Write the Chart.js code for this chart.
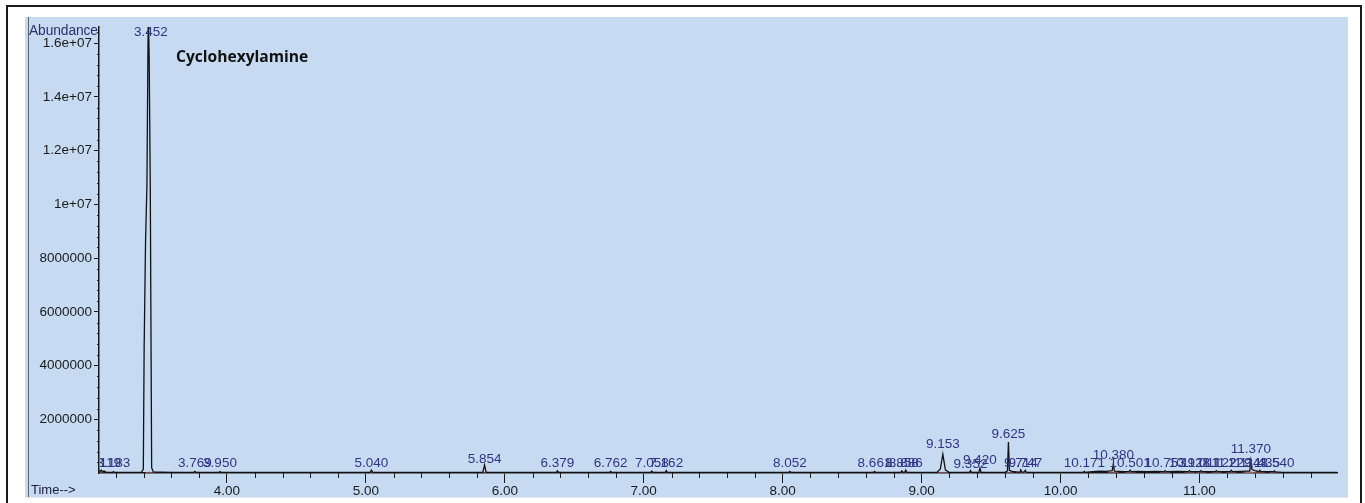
<!DOCTYPE html>
<html>
<head>
<meta charset="utf-8">
<script src="https://cdn.jsdelivr.net/npm/chart.js@4.4.1/dist/chart.umd.min.js"></script>
<style>
  html, body { margin: 0; padding: 0; background: #fff; width: 1365px; height: 503px; overflow: hidden; }
  .frame { position: absolute; left: 6px; top: 5px; width: 1352px; height: 540px; border: 2px solid #1a1a1a; }
  .panel { position: absolute; left: 25px; top: 17px; width: 1323px; height: 480px; background: #c6dbf1; border-bottom: 1px solid #dfe6ee; }
  .panel .edge { position: absolute; left: 3px; top: 0; width: 1px; height: 480px; background: #5a6270; }
  canvas { position: absolute; left: 0; top: 0; }
  .txt { position: absolute; font-family: "Liberation Sans", Arial, sans-serif; font-size: 13px; white-space: nowrap; }
  .abund { left: 4px; top: 6px; font-size: 13.8px; letter-spacing: -0.1px; color: #2c2f6e; }
  .time { left: 6px; top: 465px; color: #1a1a40; }
  .compound { left: 151px; top: 28px; font-family: "Open Sans", sans-serif; font-weight: 700; font-size: 15.6px; color: #111; }
</style>
</head>
<body>
<div class="frame"></div>
<div class="panel">
  <canvas id="tic" width="1323" height="480"></canvas>
  <div class="edge"></div>
  <div class="txt abund">Abundance</div>
  <div class="txt time">Time--&gt;</div>
  <div class="txt compound">Cyclohexylamine</div>
</div>
<script>
  // Total ion chromatogram (time in min, abundance in counts)
  const retentionTimes = [
    3.079, 3.088, 3.096, 3.104, 3.110, 3.116, 3.122, 3.130, 3.150, 3.176, 3.183, 3.192, 3.250, 3.385,
    3.398, 3.404, 3.414, 3.424, 3.431, 3.434, 3.440, 3.448, 3.458, 3.470, 3.600,
    3.760, 3.769, 3.778, 3.942, 3.950, 3.958, 4.500, 5.030, 5.040, 5.050, 5.500,
    5.842, 5.854, 5.866, 6.200, 6.371, 6.379, 6.387, 6.754, 6.762, 6.770, 7.050, 7.058, 7.066,
    7.154, 7.162, 7.170, 7.600, 8.044, 8.052, 8.060, 8.500, 8.653, 8.661, 8.669, 8.850, 8.858,
    8.866, 8.878, 8.886, 8.894, 9.110, 9.135, 9.153, 9.171, 9.200, 9.344, 9.352, 9.360, 9.412,
    9.420, 9.428, 9.600, 9.618, 9.625, 9.632, 9.650, 9.680, 9.706, 9.714, 9.722, 9.739, 9.747,
    9.755, 10.000, 10.163, 10.171, 10.179, 10.230, 10.280, 10.330, 10.372, 10.380, 10.388, 10.420,
    10.460, 10.493, 10.501, 10.509, 10.560, 10.620, 10.680, 10.745, 10.753, 10.761, 10.840, 10.920,
    10.928, 10.936, 11.003, 11.011, 11.019, 11.114, 11.122, 11.130, 11.221, 11.229, 11.237, 11.300,
    11.340, 11.362, 11.370, 11.378, 11.400, 11.427, 11.435, 11.443, 11.500, 11.532, 11.540, 11.548,
    11.600, 11.800, 11.990
  ];
  const abundances = [
    90000, 60000, 110000, 40000, 70000, 30000, 60000, 25000, 25000, 20000, 50000, 20000, 20000, 25000,
    150000, 4700000, 8600000, 10700000, 15500000, 17200000, 15500000, 10700000, 200000, 40000, 20000,
    20000, 60000, 20000, 20000, 50000, 20000, 20000, 20000, 110000, 20000, 20000,
    20000, 300000, 20000, 20000, 20000, 80000, 20000, 20000, 60000, 20000, 20000, 70000, 20000,
    20000, 90000, 20000, 20000, 20000, 60000, 20000, 20000, 20000, 60000, 20000, 20000, 80000,
    20000, 20000, 110000, 20000, 20000, 150000, 700000, 120000, 20000, 20000, 90000, 20000, 20000,
    180000, 20000, 20000, 80000, 1150000, 100000, 60000, 40000, 20000, 120000, 30000, 40000, 100000,
    20000, 20000, 20000, 60000, 20000, 50000, 70000, 60000, 90000, 330000, 70000, 60000,
    50000, 60000, 100000, 50000, 60000, 50000, 60000, 50000, 90000, 50000, 60000, 50000,
    90000, 50000, 50000, 90000, 50000, 50000, 90000, 50000, 50000, 100000, 50000, 60000,
    70000, 70000, 450000, 130000, 90000, 50000, 100000, 50000, 50000, 50000, 80000, 40000,
    25000, 20000, 20000
  ];

  // Integrated peaks: label text, label height (abundance at the label's middle)
  const peakLabels = [
    '3.119', '3.183', '3.452', '3.769', '3.950', '5.040', '5.854', '6.379', '6.762', '7.058', '7.162',
    '8.052', '8.661', '8.858', '8.886', '9.153', '9.352', '9.420', '9.625', '9.714', '9.747', '10.171',
    '10.380', '10.501', '10.753', '10.928', '11.011', '11.122', '11.229', '11.348', '11.370', '11.435', '11.540'
  ];
  const peakLabelLevels = [
    370000, 370000, 16420000, 370000, 370000, 370000, 520000, 370000, 370000, 370000, 370000,
    370000, 370000, 370000, 370000, 1080000, 340000, 480000, 1450000, 370000, 370000, 370000,
    670000, 370000, 370000, 370000, 370000, 370000, 370000, 370000, 900000, 370000, 370000
  ];

  const xMin = 3.079, xMax = 11.99;
  const yMax = 16600000;
  const xTickValues = [4, 5, 6, 7, 8, 9, 10, 11];
  const xTickLabels = ['4.00', '5.00', '6.00', '7.00', '8.00', '9.00', '10.00', '11.00'];
  const yTickValues = [2000000, 4000000, 6000000, 8000000, 10000000, 12000000, 14000000, 16000000];
  const yTickLabels = ['2000000', '4000000', '6000000', '8000000', '1e+07', '1.2e+07', '1.4e+07', '1.6e+07'];

  const tickFont = { family: '"Liberation Sans", Arial, sans-serif', size: 13.5 };

  // small unlabeled ticks every 0.2 min and every 400000 counts
  const minorTicks = {
    id: 'minorTicks',
    afterDraw(chart) {
      const { ctx, chartArea: a, scales: { x, y } } = chart;
      ctx.save();
      ctx.strokeStyle = '#1a1a1a';
      ctx.lineWidth = 1;
      ctx.beginPath();
      for (let k = 16; k * 0.2 < xMax; k++) {
        if (k % 5 === 0) continue;
        const px = Math.round(x.getPixelForValue(k * 0.2)) + 0.5;
        ctx.moveTo(px, a.bottom);
        ctx.lineTo(px, a.bottom + 5);
      }
      for (let k = 1; k * 400000 < yMax; k++) {
        if (k % 5 === 0) continue;
        const py = Math.round(y.getPixelForValue(k * 400000)) + 0.5;
        ctx.moveTo(a.left - 2, py);
        ctx.lineTo(a.left, py);
      }
      ctx.stroke();
      ctx.restore();
    }
  };

  const peakText = {
    id: 'peakText',
    afterDatasetsDraw(chart) {
      const { ctx, chartArea: a, scales: { x, y } } = chart;
      ctx.save();
      ctx.beginPath();
      ctx.rect(a.left + 1, 0, a.right - a.left, chart.height);
      ctx.clip();
      ctx.font = '13.5px "Liberation Sans", Arial, sans-serif';
      ctx.fillStyle = '#2f3582';
      ctx.textAlign = 'center';
      ctx.textBaseline = 'middle';
      peakLabels.forEach((lab, i) => {
        ctx.fillText(lab, x.getPixelForValue(parseFloat(lab)), y.getPixelForValue(peakLabelLevels[i]));
      });
      ctx.restore();
    }
  };

  new Chart(document.getElementById('tic'), {
    type: 'line',
    data: {
      datasets: [{
        data: retentionTimes.map((t, i) => ({ x: t, y: abundances[i] })),
        borderColor: '#111',
        borderWidth: 1.3,
        pointRadius: 0,
        tension: 0,
        order: 0,
      }, {
        type: 'scatter',
        data: peakLabels.map(lab => ({ x: parseFloat(lab), y: 0 })),
        pointStyle: 'line',
        pointRadius: 5,
        borderWidth: 3,
        borderColor: 'rgba(236,128,140,0.45)',
        order: 1,
      }],
    },
    options: {
      responsive: false,
      animation: false,
      events: [],
      layout: { padding: { left: 0, top: 10, right: 11, bottom: 0 } },
      plugins: { legend: { display: false }, tooltip: { enabled: false } },
      scales: {
        x: {
          type: 'linear',
          min: xMin,
          max: xMax,
          afterBuildTicks: (s) => { s.ticks = xTickValues.map(v => ({ value: v })); },
          afterFit: (s) => { s.height = 24; },
          ticks: {
            color: '#1a1a1a',
            font: tickFont,
            padding: 0,
            maxRotation: 0,
            autoSkip: false,
            callback: (v, i) => xTickLabels[i],
          },
          grid: { drawOnChartArea: false, tickLength: 10, color: '#1a1a1a' },
          border: { color: '#1a1a1a', width: 1.5 },
        },
        y: {
          type: 'linear',
          min: 0,
          max: yMax,
          afterBuildTicks: (s) => { s.ticks = yTickValues.map(v => ({ value: v })); },
          afterFit: (s) => { s.width = 74; },
          ticks: {
            color: '#1a1a1a',
            font: tickFont,
            padding: 2,
            autoSkip: false,
            callback: (v, i) => yTickLabels[i],
          },
          grid: { drawOnChartArea: false, tickLength: 5, color: '#1a1a1a' },
          border: { color: '#1a1a1a', width: 1.5 },
        },
      },
    },
    plugins: [minorTicks, peakText],
  });
</script>
</body>
</html>
